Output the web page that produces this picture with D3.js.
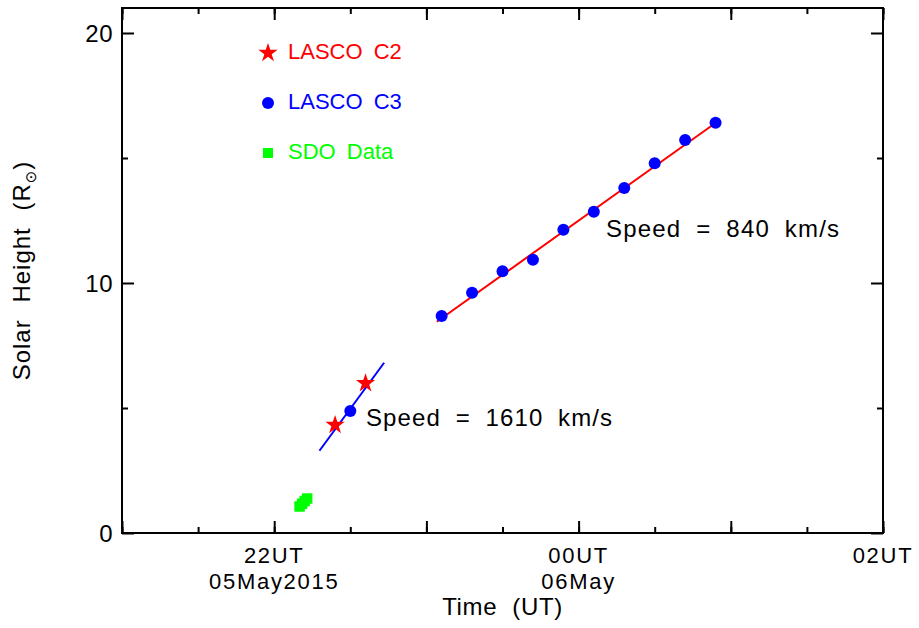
<!DOCTYPE html>
<html>
<head>
<meta charset="utf-8">
<script src="https://cdn.jsdelivr.net/npm/d3@7"></script>
<style>
  html, body { margin: 0; padding: 0; background: #fff; }
  svg { display: block; font-family: "Liberation Sans", Arial, sans-serif; }
</style>
</head>
<body>
<svg id="chart" width="919" height="628"></svg>
<script>
// LASCO C3 heights (solar radii)
const c3Times = ['2015-05-05T22:30', '2015-05-05T23:06', '2015-05-05T23:18', '2015-05-05T23:30',
  '2015-05-05T23:42', '2015-05-05T23:54', '2015-05-06T00:06', '2015-05-06T00:18',
  '2015-05-06T00:30', '2015-05-06T00:42', '2015-05-06T00:54']
const c3Heights = [4.88, 8.68, 9.61, 10.47, 10.93, 12.13, 12.85, 13.8, 14.79, 15.72, 16.41]

// LASCO C2 heights
const c2Times = ['2015-05-05T22:24', '2015-05-05T22:36']
const c2Heights = [4.32, 5.99]

// SDO heights
const sdoTimes = ['2015-05-05T22:10', '2015-05-05T22:11', '2015-05-05T22:12', '2015-05-05T22:13']
const sdoHeights = [1.06, 1.17, 1.28, 1.38]

// linear fits (end points)
const fastFitTimes = ['2015-05-05T22:17:50', '2015-05-05T22:43:20']
const fastFitHeights = [3.29, 6.81]
const slowFitTimes = ['2015-05-05T23:04:05', '2015-05-06T00:54:40']
const slowFitHeights = [8.45, 16.45]

const xTickLabels = [
  {time: '2015-05-05T22:00', lines: ['22UT', '05May2015']},
  {time: '2015-05-06T00:00', lines: ['00UT', '06May']},
  {time: '2015-05-06T02:00', lines: ['02UT']},
]
const yMajorTicks = [0, 10, 20]
const yMinorTicks = [5, 15]

const legendItems = [
  {label: 'LASCO C2', color: '#ff0000', shape: 'star'},
  {label: 'LASCO C3', color: '#0000ff', shape: 'circle'},
  {label: 'SDO Data', color: '#00ff00', shape: 'square'},
]

const parse = s => new Date(s + 'Z')
const zip = (times, values) => times.map((t, i) => ({t: parse(t), h: values[i]}))

const margin = {left: 122, right: 36, top: 8, bottom: 95}
const width = 919, height = 628
const svg = d3.select('#chart')

const x = d3.scaleUtc()
  .domain([parse('2015-05-05T21:00'), parse('2015-05-06T02:00')])
  .range([margin.left, width - margin.right])
const y = d3.scaleLinear()
  .domain([0, 21])
  .range([height - margin.bottom, margin.top])

const x0 = x.range()[0], x1 = x.range()[1]
const y0 = y.range()[0], y1 = y.range()[1]

// ticks, IDL style: inward, on all four sides
function axisTicks (axis, transform) {
  const g = svg.append('g').attr('transform', transform).call(axis)
  g.select('.domain').remove()
  g.selectAll('line').attr('stroke', '#000').attr('stroke-width', 2)
  g.selectAll('text').remove()
}
const hourTicks = d3.utcHour.every(1)
const halfTicks = d3.utcMinute.every(30)
axisTicks(d3.axisBottom(x).ticks(halfTicks).tickSize(-6), `translate(0,${y0})`)
axisTicks(d3.axisBottom(x).ticks(hourTicks).tickSize(-12), `translate(0,${y0})`)
axisTicks(d3.axisTop(x).ticks(halfTicks).tickSize(-6), `translate(0,${y1})`)
axisTicks(d3.axisTop(x).ticks(hourTicks).tickSize(-12), `translate(0,${y1})`)
axisTicks(d3.axisLeft(y).tickValues(yMinorTicks).tickSize(-6), `translate(${x0},0)`)
axisTicks(d3.axisLeft(y).tickValues(yMajorTicks).tickSize(-12), `translate(${x0},0)`)
axisTicks(d3.axisRight(y).tickValues(yMinorTicks).tickSize(-6), `translate(${x1},0)`)
axisTicks(d3.axisRight(y).tickValues(yMajorTicks).tickSize(-12), `translate(${x1},0)`)

svg.append('rect')
  .attr('x', x0).attr('y', y1)
  .attr('width', x1 - x0).attr('height', y0 - y1)
  .attr('fill', 'none').attr('stroke', '#000').attr('stroke-width', 2)

// tick labels
svg.selectAll('.ylab').data(yMajorTicks).enter().append('text')
  .attr('x', x0 - 9).attr('y', d => y(d))
  .attr('dy', '0.36em')
  .attr('text-anchor', 'end')
  .attr('font-size', 24)
  .attr('letter-spacing', 0.5)
  .text(d => d)

xTickLabels.forEach(d => {
  d.lines.forEach((line, i) => {
    svg.append('text')
      .attr('x', x(parse(d.time))).attr('y', 563 + i * 26)
      .attr('text-anchor', 'middle')
      .attr('font-size', 22)
      .attr('letter-spacing', 1.7)
      .text(line)
  })
})

// axis titles
svg.append('text')
  .attr('x', (x0 + x1) / 2).attr('y', 615)
  .attr('text-anchor', 'middle')
  .attr('font-size', 24)
  .attr('letter-spacing', 0.6)
  .attr('word-spacing', 8)
  .text('Time (UT)')

const yTitle = svg.append('text')
  .attr('transform', `translate(30,${(y0 + y1) / 2}) rotate(-90)`)
  .attr('text-anchor', 'middle')
  .attr('font-size', 24)
  .attr('letter-spacing', 1)
  .attr('word-spacing', 9)
yTitle.append('tspan').text('Solar Height (R')
yTitle.append('tspan')
  .attr('font-family', 'DejaVu Sans')
  .attr('font-size', 15)
  .attr('dy', 6)
  .text('\u2299')
yTitle.append('tspan').attr('dy', -6).text(')')

// fit lines
const line = d3.line().x(d => x(d.t)).y(d => y(d.h))
svg.append('path')
  .datum(zip(fastFitTimes, fastFitHeights))
  .attr('d', line)
  .attr('fill', 'none').attr('stroke', '#0000ff').attr('stroke-width', 2)
svg.append('path')
  .datum(zip(slowFitTimes, slowFitHeights))
  .attr('d', line)
  .attr('fill', 'none').attr('stroke', '#ff0000').attr('stroke-width', 2)

// markers
const star = d3.symbol(d3.symbolStar, 115)
const square = d3.symbol(d3.symbolSquare, 110)

svg.selectAll('.sdo').data(zip(sdoTimes, sdoHeights)).enter().append('path')
  .attr('transform', d => `translate(${x(d.t)},${y(d.h)})`)
  .attr('d', square)
  .attr('fill', '#00ff00')

svg.selectAll('.c3').data(zip(c3Times, c3Heights)).enter().append('circle')
  .attr('cx', d => x(d.t)).attr('cy', d => y(d.h))
  .attr('r', 6)
  .attr('fill', '#0000ff')

svg.selectAll('.c2').data(zip(c2Times, c2Heights)).enter().append('path')
  .attr('transform', d => `translate(${x(d.t)},${y(d.h)})`)
  .attr('d', star)
  .attr('fill', '#ff0000')

// speed annotations
svg.append('text')
  .attr('x', 366).attr('y', 426)
  .attr('font-size', 24)
  .attr('word-spacing', 7)
  .attr('letter-spacing', 1.1)
  .text('Speed = 1610 km/s')
svg.append('text')
  .attr('x', 606).attr('y', 237)
  .attr('font-size', 24)
  .attr('word-spacing', 7)
  .attr('letter-spacing', 1.2)
  .text('Speed = 840 km/s')

// legend
const legend = svg.selectAll('.legend').data(legendItems).enter().append('g')
  .attr('transform', (d, i) => `translate(268,${53 + i * 50})`)
legend.each(function (d) {
  const g = d3.select(this)
  if (d.shape === 'star') g.append('path').attr('d', star).attr('fill', d.color)
  else if (d.shape === 'circle') g.append('circle').attr('r', 6).attr('fill', d.color)
  else g.append('path').attr('d', d3.symbol(d3.symbolSquare, 100)).attr('fill', d.color)
})
legend.append('text')
  .attr('x', 20).attr('y', 6)
  .attr('font-size', 22)
  .attr('word-spacing', 5)
  .attr('fill', d => d.color)
  .text(d => d.label)
</script>
</body>
</html>
